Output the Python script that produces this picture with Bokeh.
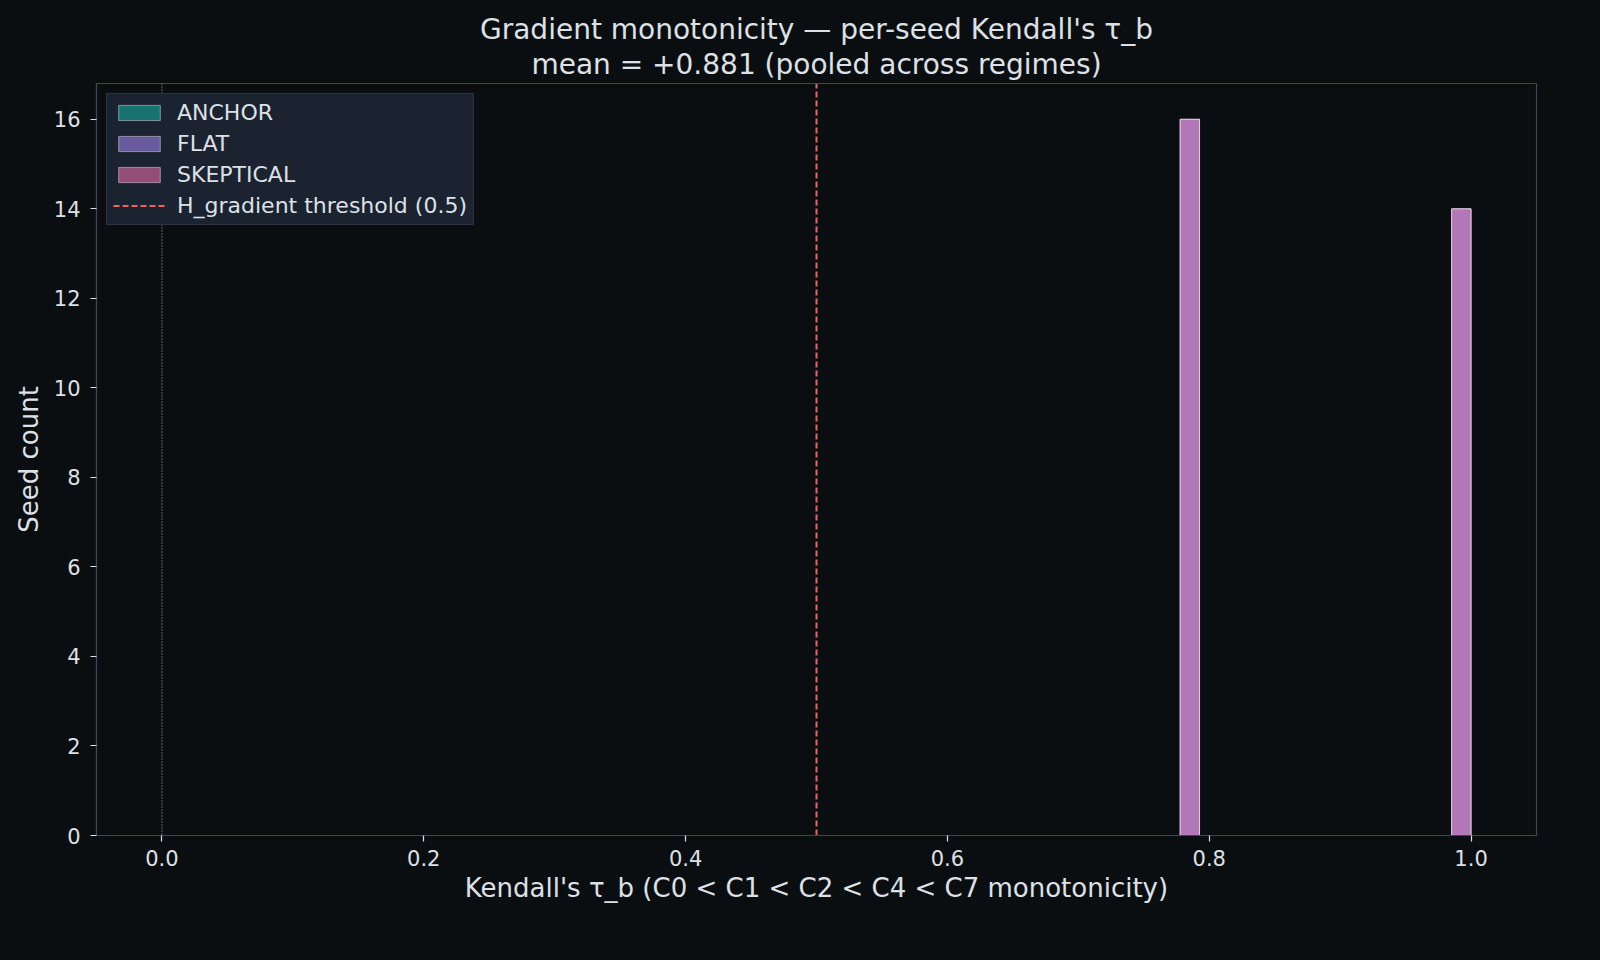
from bokeh.plotting import figure
from bokeh.models import Title, FixedTicker, NumeralTickFormatter, Span, Range1d, Legend, LegendItem
from bokeh.embed import file_html
from bokeh.resources import INLINE

# ---- data ----
regimes = ["ANCHOR", "FLAT", "SKEPTICAL"]
regime_colors = ["#14b8a6", "#a78bfa", "#f472b6"]
bin_left = [0.7778, 0.9852]
bin_right = [0.7926, 1.0]
anchor_counts = [16, 14]
flat_counts = [16, 14]
skeptical_counts = [16, 14]
threshold = 0.5
mean_tau = 0.881
x_ticks = [0.0, 0.2, 0.4, 0.6, 0.8, 1.0]
y_ticks = [0, 2, 4, 6, 8, 10, 12, 14, 16]

BG = "#0b0e11"
FG = "#dde1e6"
SPINE = "#3b4658"
FONT = "DejaVu Sans"

p = figure(frame_width=1440, frame_height=752,
           min_border_left=96, min_border_right=48, min_border_top=83, min_border_bottom=109,
           x_range=Range1d(-0.05, 1.05), y_range=Range1d(0, 16.8),
           output_backend="svg", toolbar_location=None,
           background_fill_color=BG, border_fill_color=BG)
p.title.visible = False
p.outline_line_color = SPINE
p.outline_line_width = 1.2
p.grid.visible = False

# titles (second line nearest the plot)
t2 = Title(text=f"mean = {mean_tau:+.3f} (pooled across regimes)", align="center",
           text_font=FONT, text_font_size="28px", text_font_style="normal",
           text_color=FG, standoff=6)
t1 = Title(text="Gradient monotonicity \u2014 per-seed Kendall's \u03c4_b", align="center",
           text_font=FONT, text_font_size="28px", text_font_style="normal",
           text_color=FG, standoff=-6)
p.add_layout(t2, "above")
p.add_layout(t1, "above")

# zero reference line
p.add_layout(Span(location=0, dimension="height", line_color="#8b949e",
                  line_dash="1 2", line_width=1.2))

counts_all = [anchor_counts, flat_counts, skeptical_counts]
items = []
for name, col, cnt in zip(regimes, regime_colors, counts_all):
    r = p.quad(left=bin_left, right=bin_right, bottom=[0] * len(cnt), top=cnt,
               fill_color=col, fill_alpha=0.55, line_color="white", line_alpha=0.55,
               line_width=0.8)
    items.append(LegendItem(label=name, renderers=[r]))

thr = p.line(x=[threshold, threshold], y=[0, 16.8], line_color="#f06262",
             line_dash="6 3", line_width=2)
items.append(LegendItem(label=f"H_gradient threshold ({threshold})", renderers=[thr]))

legend = Legend(items=items, location="top_left",
                background_fill_color="#1b2230", background_fill_alpha=1.0,
                border_line_color="#3a4556", border_line_width=1.2,
                label_text_font=FONT, label_text_font_size="22px", label_text_color=FG,
                glyph_width=52, glyph_height=19, label_standoff=12,
                padding=6, spacing=6, margin=10)
p.add_layout(legend)

# axes
for ax in (p.xaxis[0], p.yaxis[0]):
    ax.axis_line_color = SPINE
    ax.axis_line_width = 1.2
    ax.major_tick_line_color = FG
    ax.major_tick_line_width = 1.2
    ax.major_tick_out = 6
    ax.major_tick_in = 0
    ax.minor_tick_line_color = None
    ax.major_label_text_color = FG
    ax.major_label_text_font = FONT
    ax.major_label_text_font_size = "21px"
    ax.axis_label_text_color = FG
    ax.axis_label_text_font = FONT
    ax.axis_label_text_font_size = "26px"
    ax.axis_label_text_font_style = "normal"

p.xaxis.ticker = FixedTicker(ticks=x_ticks)
p.xaxis.formatter = NumeralTickFormatter(format="0.0")
p.yaxis.ticker = FixedTicker(ticks=y_ticks)
p.xaxis.axis_label = "Kendall's \u03c4_b (C0 < C1 < C2 < C4 < C7 monotonicity)"
p.yaxis.axis_label = "Seed count"
p.xaxis.major_label_standoff = 8
p.yaxis.major_label_standoff = 10
p.xaxis.axis_label_standoff = 4
p.yaxis.axis_label_standoff = 7

html = file_html(p, INLINE)
html = html.replace("<body>", f'<body style="background:{BG};">')
open("out.html", "w").write(html)
